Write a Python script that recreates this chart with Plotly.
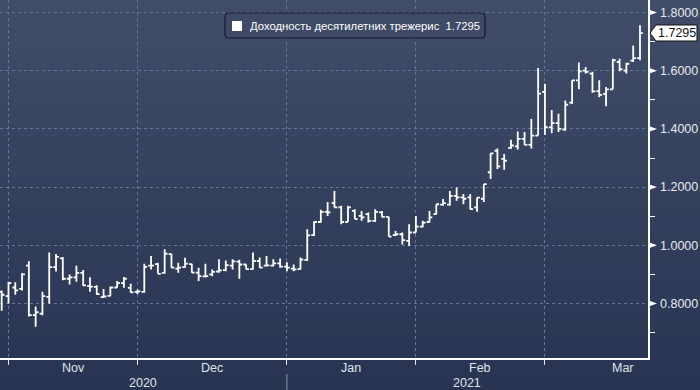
import plotly.graph_objects as go
import pandas as pd

# ---------------- data ----------------
holidays = ["2020-11-11", "2020-11-26", "2020-12-25", "2021-01-01", "2021-01-18", "2021-02-15"]
dates = [d for d in pd.bdate_range("2020-10-29", "2021-03-18") if d.strftime("%Y-%m-%d") not in holidays]

open_ = [0.840, 0.825, 0.855, 0.850, 0.930, 0.760, 0.765, 0.823, 0.925, 0.955,
         0.885, 0.890, 0.905, 0.860, 0.857, 0.822, 0.826, 0.855, 0.870, 0.854,
         0.840, 0.840, 0.930, 0.935, 0.905, 0.970, 0.920, 0.925, 0.935, 0.906,
         0.893, 0.900, 0.910, 0.915, 0.930, 0.944, 0.934, 0.918, 0.946, 0.930,
         0.930, 0.938, 0.927, 0.920, 0.918, 0.950, 1.035, 1.080, 1.115, 1.145,
         1.130, 1.080, 1.118, 1.101, 1.107, 1.084, 1.113, 1.098, 1.035, 1.038,
         1.015, 1.044, 1.064, 1.080, 1.107, 1.140, 1.140, 1.170, 1.165, 1.165,
         1.130, 1.160, 1.251, 1.325, 1.297, 1.335, 1.340, 1.366, 1.345, 1.377,
         1.527, 1.405, 1.420, 1.398, 1.490, 1.567, 1.600, 1.590, 1.530, 1.520,
         1.536, 1.630, 1.600, 1.635, 1.643]
high = [0.845, 0.875, 0.873, 0.905, 0.945, 0.790, 0.840, 0.975, 0.970, 0.960,
        0.900, 0.930, 0.915, 0.890, 0.863, 0.850, 0.858, 0.877, 0.891, 0.868,
        0.848, 0.937, 0.963, 0.940, 0.986, 0.971, 0.940, 0.957, 0.937, 0.923,
        0.937, 0.917, 0.952, 0.948, 0.952, 0.950, 0.934, 0.975, 0.958, 0.963,
        0.952, 0.955, 0.942, 0.934, 0.958, 1.055, 1.082, 1.122, 1.149, 1.187,
        1.136, 1.136, 1.124, 1.118, 1.113, 1.124, 1.118, 1.098, 1.049, 1.044,
        1.072, 1.101, 1.084, 1.118, 1.141, 1.159, 1.187, 1.199, 1.176, 1.176,
        1.164, 1.210, 1.316, 1.333, 1.314, 1.363, 1.391, 1.389, 1.434, 1.609,
        1.555, 1.465, 1.452, 1.498, 1.567, 1.628, 1.613, 1.596, 1.567, 1.544,
        1.641, 1.641, 1.627, 1.687, 1.756]
low = [0.775, 0.800, 0.830, 0.845, 0.755, 0.720, 0.760, 0.800, 0.910, 0.880,
       0.865, 0.875, 0.860, 0.840, 0.830, 0.820, 0.825, 0.854, 0.854, 0.837,
       0.833, 0.837, 0.917, 0.902, 0.902, 0.923, 0.906, 0.923, 0.906, 0.877,
       0.889, 0.894, 0.906, 0.911, 0.917, 0.885, 0.917, 0.917, 0.923, 0.927,
       0.927, 0.923, 0.911, 0.911, 0.917, 0.946, 1.032, 1.078, 1.101, 1.130,
       1.072, 1.080, 1.090, 1.084, 1.078, 1.080, 1.096, 1.030, 1.032, 1.003,
       0.998, 1.044, 1.061, 1.078, 1.107, 1.136, 1.136, 1.153, 1.141, 1.124,
       1.115, 1.149, 1.228, 1.262, 1.260, 1.331, 1.329, 1.345, 1.333, 1.377,
       1.379, 1.385, 1.389, 1.394, 1.486, 1.536, 1.590, 1.524, 1.509, 1.478,
       1.536, 1.598, 1.590, 1.630, 1.636]
close = [0.830, 0.870, 0.845, 0.900, 0.760, 0.770, 0.825, 0.925, 0.960, 0.885,
         0.890, 0.905, 0.862, 0.858, 0.832, 0.824, 0.855, 0.870, 0.885, 0.838,
         0.842, 0.926, 0.930, 0.902, 0.971, 0.923, 0.923, 0.937, 0.906, 0.894,
         0.894, 0.909, 0.914, 0.932, 0.945, 0.934, 0.918, 0.946, 0.923, 0.931,
         0.938, 0.927, 0.923, 0.917, 0.951, 1.034, 1.080, 1.115, 1.113, 1.130,
         1.080, 1.130, 1.090, 1.096, 1.084, 1.115, 1.098, 1.030, 1.038, 1.018,
         1.044, 1.064, 1.078, 1.096, 1.141, 1.145, 1.170, 1.165, 1.160, 1.124,
         1.164, 1.210, 1.316, 1.271, 1.291, 1.343, 1.366, 1.345, 1.377, 1.521,
         1.406, 1.420, 1.400, 1.483, 1.567, 1.598, 1.596, 1.529, 1.517, 1.536,
         1.636, 1.605, 1.624, 1.643, 1.7295]

series_name = "Доходность десятилетних трежерис"
last_label = "1.7295"
month_labels = ["Nov", "Dec", "Jan", "Feb", "Mar"]
year_labels = ["2020", "2021"]
y_ticks = [0.8, 1.0, 1.2, 1.4, 1.6, 1.8]
y_tick_text = ["0.8000", "1.0000", "1.2000", "1.4000", "1.6000", "1.8000"]

# ---------------- derived positions ----------------
x = list(range(len(dates)))
bounds = [i for i in range(len(dates) - 1) if dates[i].month != dates[i + 1].month]
mar_days = len(pd.bdate_range("2021-03-01", "2021-03-31"))
ends = bounds + [bounds[-1] + mar_days]
month_centers = [(ends[k] + ends[k + 1]) / 2 for k in range(len(month_labels))]
year_bound = [i for i in range(len(dates) - 1) if dates[i].year != dates[i + 1].year][0]

W, H = 648, 358          # plot area in px
XMIN, XMAX = -0.25, 95.18
YMIN, YMAX = 0.6127, 1.843
year_centers = [(XMIN + year_bound) / 2, (year_bound + XMAX) / 2]


def pxx(v):
    return v / W


def pxy(v):
    return 1 - v / H


fig = go.Figure()
fig.add_trace(go.Ohlc(
    x=x, open=open_, high=high, low=low, close=close,
    increasing=dict(line=dict(color="white", width=1.8)),
    decreasing=dict(line=dict(color="white", width=1.8)),
    tickwidth=0.42, hoverinfo="skip", showlegend=False,
))

shapes = []
# gradient background
top = (64, 76, 104)
bot = (41, 52, 82)
n = 40
for k in range(n):
    t = k / (n - 1)
    c = tuple(int(round(top[j] + (bot[j] - top[j]) * t)) for j in range(3))
    y0 = k * 390 / n
    y1 = (k + 1) * 390 / n + 0.5
    shapes.append(dict(type="rect", xref="paper", yref="paper", layer="below",
                       x0=pxx(-2), x1=pxx(702), y0=pxy(y1), y1=pxy(y0),
                       fillcolor="rgb(%d,%d,%d)" % c, line=dict(width=0)))

# triangles at major y ticks
for v in y_ticks:
    shapes.append(dict(type="path", xref="paper", yref="y",
                       path="M %f,%f L %f,%f L %f,%f Z" % (1.0, v - 3.2 / 291, pxx(657), v, 1.0, v + 3.2 / 291),
                       fillcolor="white", line=dict(width=0)))

# year separator
shapes.append(dict(type="line", xref="x", yref="paper", x0=year_bound, x1=year_bound,
                   y0=pxy(374), y1=pxy(392), line=dict(color="#8e97ab", width=1)))

# legend box (rounded)
lx0, lx1, ly0, ly1, r = 225, 485, 13, 38, 4
path = ("M %f,%f L %f,%f Q %f,%f %f,%f L %f,%f Q %f,%f %f,%f L %f,%f Q %f,%f %f,%f L %f,%f Q %f,%f %f,%f Z" % (
    pxx(lx0 + r), pxy(ly0), pxx(lx1 - r), pxy(ly0), pxx(lx1), pxy(ly0), pxx(lx1), pxy(ly0 + r),
    pxx(lx1), pxy(ly1 - r), pxx(lx1), pxy(ly1), pxx(lx1 - r), pxy(ly1),
    pxx(lx0 + r), pxy(ly1), pxx(lx0), pxy(ly1), pxx(lx0), pxy(ly1 - r),
    pxx(lx0), pxy(ly0 + r), pxx(lx0), pxy(ly0), pxx(lx0 + r), pxy(ly0)))
shapes.append(dict(type="path", xref="paper", yref="paper", path=path,
                   fillcolor="rgba(62,74,102,1)", line=dict(color="#151b2b", width=1.2)))
shapes.append(dict(type="rect", xref="paper", yref="paper", x0=pxx(232), x1=pxx(242),
                   y0=pxy(31), y1=pxy(21), fillcolor="white", line=dict(width=0)))

# last value flag
ly = 303.5 - (close[-1] - 0.8) * 291
fp = "M %f,%f L %f,%f L %f,%f L %f,%f L %f,%f Z" % (
    pxx(650), pxy(ly), pxx(656), pxy(ly - 8), pxx(697), pxy(ly - 8), pxx(697), pxy(ly + 8), pxx(656), pxy(ly + 8))
shapes.append(dict(type="path", xref="paper", yref="paper", path=fp,
                   fillcolor="white", line=dict(color="#111111", width=1)))

annotations = []
for lab, cx in zip(month_labels, month_centers):
    annotations.append(dict(x=cx, y=pxy(368), xref="x", yref="paper", text=lab, showarrow=False,
                            font=dict(family="Liberation Sans", size=12.5, color="#dfe3ea"),
                            xanchor="center", yanchor="middle"))
for lab, cx in zip(year_labels, year_centers):
    annotations.append(dict(x=cx, y=pxy(382.5), xref="x", yref="paper", text=lab, showarrow=False,
                            font=dict(family="Liberation Sans", size=12.5, color="#dfe3ea"),
                            xanchor="center", yanchor="middle"))
annotations.append(dict(x=pxx(248), y=pxy(26), xref="paper", yref="paper",
                        text=series_name + "\u00a0\u00a0" + last_label, showarrow=False,
                        font=dict(family="Liberation Sans", size=11.3, color="white"),
                        xanchor="left", yanchor="middle"))
annotations.append(dict(x=pxx(676.5), y=pxy(ly), xref="paper", yref="paper",
                        text=last_label, showarrow=False,
                        font=dict(family="Liberation Sans", size=12.5, color="#111111"),
                        xanchor="center", yanchor="middle"))

fig.update_layout(
    width=700, height=390,
    margin=dict(l=0, r=52, t=0, b=32, pad=0),
    paper_bgcolor="rgb(41,52,82)",
    plot_bgcolor="rgba(0,0,0,0)",
    showlegend=False,
    shapes=shapes,
    annotations=annotations,
    xaxis=dict(range=[XMIN, XMAX], rangeslider=dict(visible=False), tickmode="array",
               tickvals=bounds, showticklabels=False, ticks="outside", ticklen=5,
               tickcolor="#e8e8e8", showgrid=True, gridcolor="#66759a", griddash="3px,3px",
               gridwidth=1, showline=True, linecolor="white", linewidth=1.5, zeroline=False),
    yaxis=dict(range=[YMIN, YMAX], side="right", tickmode="array", tickvals=y_ticks,
               ticktext=y_tick_text, ticks="", ticklabelstandoff=8,
               tickfont=dict(family="Liberation Sans", size=12.5, color="#e8eaee"),
               minor=dict(dtick=0.1, tick0=0, ticks="outside", ticklen=5, tickcolor="white", showgrid=False),
               showgrid=True, gridcolor="#66759a", griddash="3px,3px", gridwidth=1,
               showline=True, linecolor="white", linewidth=1.5, zeroline=False),
)

fig.write_html("out.html", config={"displayModeBar": False, "staticPlot": True},
               post_script="document.body.style.margin='0px';document.body.style.padding='0px';")
